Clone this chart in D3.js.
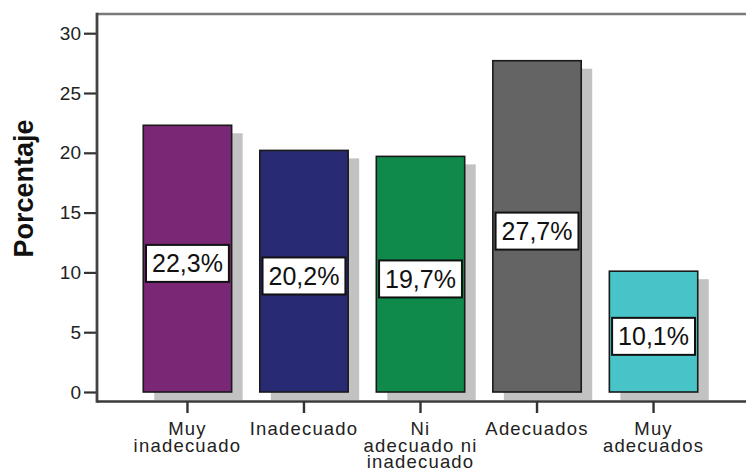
<!DOCTYPE html>
<html>
<head>
<meta charset="utf-8">
<script src="https://cdn.jsdelivr.net/npm/d3@7"></script>
<style>
  html, body { margin: 0; padding: 0; background: #fff; }
  svg { display: block; }
  text { font-family: "Liberation Sans", Arial, sans-serif; }
</style>
</head>
<body>
<svg id="chart" width="746" height="472"></svg>
<script>
// ---- data ----
const categories = ["Muy inadecuado", "Inadecuado", "Ni adecuado ni inadecuado", "Adecuados", "Muy adecuados"];
const categoryLines = [["Muy", "inadecuado"], ["Inadecuado"], ["Ni", "adecuado ni", "inadecuado"], ["Adecuados"], ["Muy", "adecuados"]];
const values = [22.3, 20.2, 19.7, 27.7, 10.1];
const barColors = ["#7a2776", "#282b73", "#108a4a", "#646464", "#48c3c7"];
const yTicks = [0, 5, 10, 15, 20, 25, 30];
const yTitle = "Porcentaje";

// ---- layout ----
const svg = d3.select("#chart");
const frame = { left: 97, top: 14, bottom: 401.5, right: 760 };

const x = d3.scaleBand()
  .domain(categories)
  .range([97, 744])
  .paddingInner(0.2415)
  .paddingOuter(0.397);

const y = d3.scaleLinear().domain([0, 30]).range([392, 33.2]);

const locale = d3.formatLocale({ decimal: ",", thousands: ".", grouping: [3], currency: ["", "€"] });
const fmt = locale.format(".1f");

const data = categories.map((c, i) => ({ c, v: values[i], color: barColors[i], lines: categoryLines[i] }));

// shadows
const plot = svg.append("g");
plot.selectAll("rect.shadow").data(data).enter().append("rect")
  .attr("class", "shadow")
  .attr("x", d => x(d.c) + 11)
  .attr("y", d => y(d.v) + 8)
  .attr("width", x.bandwidth())
  .attr("height", d => Math.min(frame.bottom - (y(d.v) + 8), y(0) - y(d.v)))
  .attr("fill", "#c2c2c2");

// bars
plot.selectAll("rect.bar").data(data).enter().append("rect")
  .attr("class", "bar")
  .attr("x", d => x(d.c))
  .attr("y", d => y(d.v))
  .attr("width", x.bandwidth())
  .attr("height", d => y(0) - y(d.v))
  .attr("fill", d => d.color)
  .attr("stroke", "#1a1a1a")
  .attr("stroke-width", 1.6);

// value labels
const lab = plot.selectAll("g.lab").data(data).enter().append("g").attr("class", "lab")
  .attr("transform", d => `translate(${x(d.c) + x.bandwidth() / 2},${(y(d.v) + frame.bottom) / 2})`);
lab.append("rect").attr("class", "box");
lab.append("text")
  .attr("text-anchor", "middle")
  .attr("dy", "0.36em")
  .attr("font-size", 25)
  .attr("fill", "#111")
  .text(d => fmt(d.v) + "%");
lab.each(function () {
  const g = d3.select(this);
  const w = g.select("text").node().getComputedTextLength() + 12;
  g.select("rect.box")
    .attr("x", -w / 2).attr("y", -18.5)
    .attr("width", w).attr("height", 37)
    .attr("fill", "#fff").attr("stroke", "#111").attr("stroke-width", 2);
});

// frame: top line (gray)
svg.append("line")
  .attr("x1", frame.left).attr("x2", frame.right)
  .attr("y1", frame.top).attr("y2", frame.top)
  .attr("stroke", "#7a7a7a").attr("stroke-width", 2.6);

// y axis
const yAxis = svg.append("g")
  .attr("transform", `translate(${frame.left},0)`)
  .call(d3.axisLeft(y).tickValues(yTicks).tickSize(13).tickPadding(3).tickFormat(d3.format("d")));
yAxis.select(".domain").remove();
yAxis.selectAll(".tick line").attr("stroke", "#333").attr("stroke-width", 2.2);
yAxis.selectAll(".tick text").attr("font-size", 19).attr("fill", "#222").attr("font-family", "Liberation Sans, Arial, sans-serif");
svg.append("line")
  .attr("x1", frame.left).attr("x2", frame.left)
  .attr("y1", frame.top - 1.3).attr("y2", frame.bottom + 1.3)
  .attr("stroke", "#444").attr("stroke-width", 2.8);

// x axis
svg.append("line")
  .attr("x1", frame.left).attr("x2", frame.right)
  .attr("y1", frame.bottom).attr("y2", frame.bottom)
  .attr("stroke", "#3a3a3a").attr("stroke-width", 2.6);
const xt = svg.append("g").selectAll("g").data(data).enter().append("g")
  .attr("transform", d => `translate(${x(d.c) + x.bandwidth() / 2},0)`);
xt.append("line")
  .attr("y1", frame.bottom).attr("y2", 413)
  .attr("stroke", "#333").attr("stroke-width", 2.4);
xt.append("text")
  .attr("text-anchor", "middle")
  .attr("font-size", 18.5)
  .attr("letter-spacing", 1.2)
  .attr("fill", "#222")
  .selectAll("tspan").data(d => d.lines).enter().append("tspan")
  .attr("x", 0)
  .attr("y", (d, i) => 435 + i * 16.5)
  .text(d => d);

// y title
svg.append("text")
  .attr("transform", "translate(33,188.5) rotate(-90)")
  .attr("text-anchor", "middle")
  .attr("font-size", 27)
  .attr("font-weight", "bold")
  .attr("fill", "#111")
  .text(yTitle);
</script>
</body>
</html>
